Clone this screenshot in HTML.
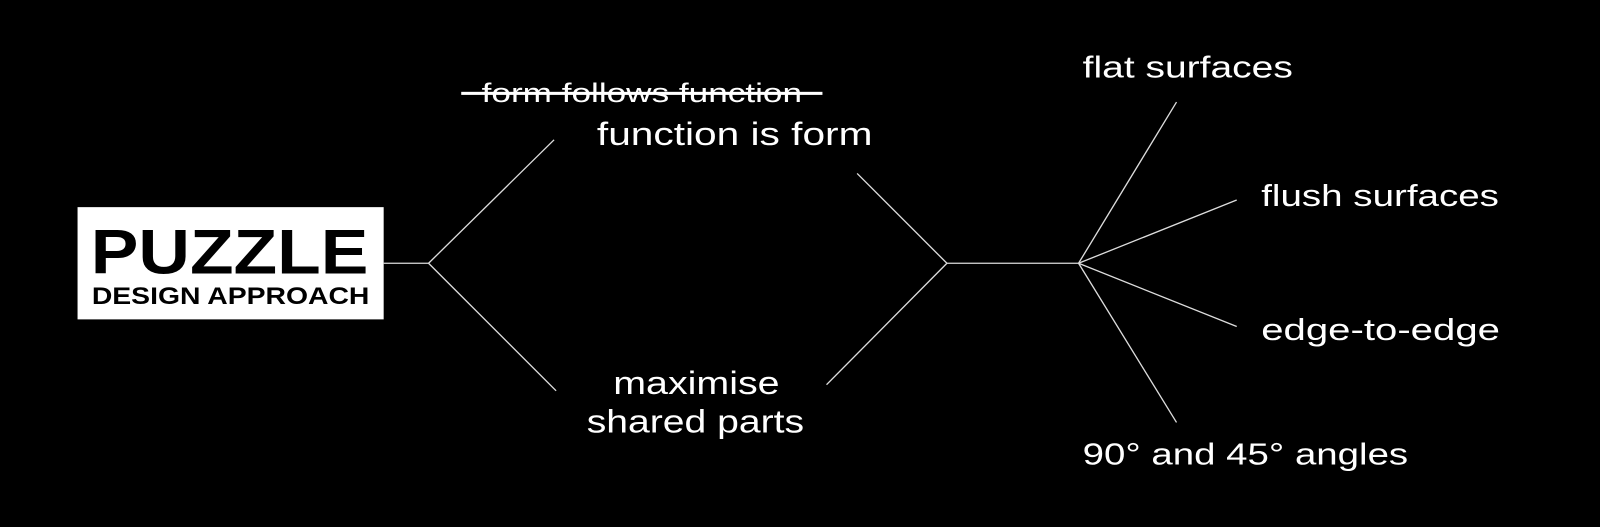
<!DOCTYPE html>
<html><head><meta charset="utf-8"><style>
html,body{margin:0;padding:0;background:#000;}
svg{display:block;}
text{font-family:"Liberation Sans",sans-serif;fill:#fff;}
</style></head><body>
<svg width="1600" height="527" viewBox="0 0 1600 527" xmlns="http://www.w3.org/2000/svg">
<g transform="scale(1.0204)">
<rect x="76" y="203" width="300" height="110" fill="#fff"/>
<text x="89" y="268" font-size="62" font-weight="bold" style="fill:#000" textLength="272" lengthAdjust="spacingAndGlyphs">PUZZLE</text>
<text x="90" y="298" font-size="24" font-weight="bold" style="fill:#000" textLength="272" lengthAdjust="spacingAndGlyphs">DESIGN APPROACH</text>
<g stroke="#ddd" stroke-width="1.3" fill="none">
<line x1="376" y1="258" x2="420" y2="258"/>
<line x1="420" y1="258" x2="543" y2="137"/>
<line x1="420" y1="258" x2="545" y2="383"/>
<line x1="840" y1="170" x2="928" y2="258"/>
<line x1="810" y1="377" x2="928" y2="258"/>
<line x1="928" y1="258" x2="1057" y2="258"/>
<line x1="1057" y1="258" x2="1153" y2="100"/>
<line x1="1057" y1="258" x2="1212" y2="196"/>
<line x1="1057" y1="258" x2="1212" y2="320"/>
<line x1="1057" y1="258" x2="1153" y2="414"/>
</g>
<text x="472" y="100" font-size="26" textLength="314" lengthAdjust="spacingAndGlyphs">form follows function</text>
<rect x="452" y="90" width="354" height="3" fill="#fff"/>
<text x="585" y="142" font-size="32" textLength="270" lengthAdjust="spacingAndGlyphs">function is form</text>
<text x="601" y="386" font-size="32" textLength="163" lengthAdjust="spacingAndGlyphs">maximise</text>
<text x="575" y="424" font-size="32" textLength="213" lengthAdjust="spacingAndGlyphs">shared parts</text>
<text x="1061" y="76" font-size="30" textLength="206" lengthAdjust="spacingAndGlyphs">flat surfaces</text>
<text x="1236" y="202" font-size="30" textLength="233" lengthAdjust="spacingAndGlyphs">flush surfaces</text>
<text x="1236" y="333" font-size="30" textLength="234" lengthAdjust="spacingAndGlyphs">edge-to-edge</text>
<text x="1061" y="455" font-size="30" textLength="319" lengthAdjust="spacingAndGlyphs">90° and 45° angles</text>
</g>
</svg>
</body></html>
